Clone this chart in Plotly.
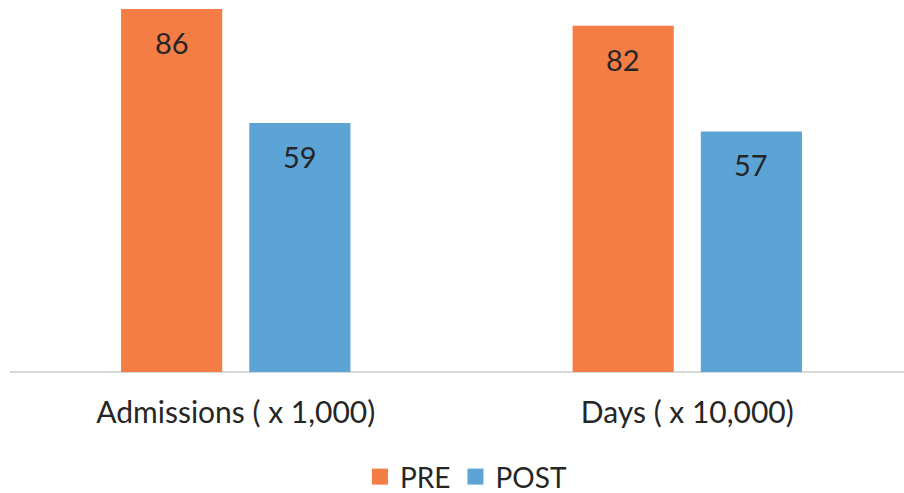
import plotly.graph_objects as go

# Chart data
categories = ["Admissions ( x 1,000)", "Days ( x 10,000)"]
series_names = ["PRE", "POST"]
pre_values = [86, 82]
post_values = [59, 57]

colors = {"PRE": "#F47D46", "POST": "#5CA3D6"}
font_family = "Lato, 'Noto Sans', sans-serif"
text_color = "#262626"

fig = go.Figure()

bar_width = 0.224
offsets = {"PRE": -0.254, "POST": 0.030}

for name, vals in zip(series_names, [pre_values, post_values]):
    fig.add_trace(go.Bar(
        x=categories,
        y=vals,
        name=name,
        width=bar_width,
        offset=offsets[name],
        marker=dict(color=colors[name], line=dict(width=0)),
        showlegend=False,
    ))
    # value labels just inside the top of each bar
    for i, v in enumerate(vals):
        fig.add_annotation(
            x=i, y=v, xref="x", yref="y",
            xshift=(offsets[name] + bar_width / 2) * 451.5,
            yshift=-14, yanchor="top",
            text=str(v), showarrow=False,
            font=dict(family=font_family, size=29, color=text_color),
        )
    # legend entry with a larger square swatch
    fig.add_trace(go.Scatter(
        x=[None], y=[None], mode="markers", name=name,
        marker=dict(symbol="square", size=19, color=colors[name]),
        showlegend=True,
    ))

fig.update_layout(
    width=904,
    height=493,
    margin=dict(l=10, r=0, t=0, b=121, autoexpand=False),
    paper_bgcolor="white",
    plot_bgcolor="white",
    barmode="group",
    font=dict(family=font_family, color=text_color, size=28),
    xaxis=dict(
        range=[-0.5, 1.48],
        showgrid=False,
        zeroline=False,
        showline=False,
        ticks="",
        ticklabelstandoff=20,
        tickfont=dict(family=font_family, size=30, color=text_color),
    ),
    yaxis=dict(
        range=[0, 88.13],
        showgrid=False,
        zeroline=True,
        zerolinecolor="#D9D9D9",
        zerolinewidth=2,
        showticklabels=False,
        showline=False,
        ticks="",
    ),
    legend=dict(
        orientation="h",
        x=0.51, xanchor="center",
        y=-0.282, yanchor="middle",
        font=dict(family=font_family, size=28, color=text_color),
        itemwidth=30,
        tracegroupgap=0,
        borderwidth=0,
    ),
)

fig.write_html("out.html")
